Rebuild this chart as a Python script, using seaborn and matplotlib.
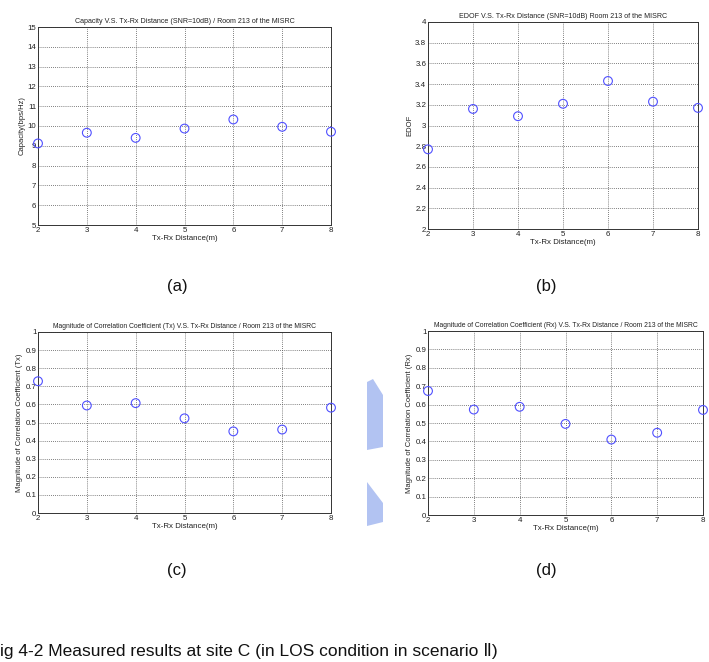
import matplotlib
matplotlib.use("Agg")
import matplotlib.pyplot as plt
from matplotlib.patches import Polygon
import seaborn as sns
import numpy as np

sns.set_theme(style="white")
plt.rcParams['font.family'] = ['Liberation Sans', 'DejaVu Sans']

distance = [2, 3, 4, 5, 6, 7, 8]
capacity = [9.12, 9.66, 9.40, 9.87, 10.33, 9.96, 9.71]
edof = [2.77, 3.16, 3.09, 3.21, 3.43, 3.23, 3.17]
corr_tx = [0.728, 0.594, 0.607, 0.523, 0.451, 0.461, 0.582]
corr_rx = [0.674, 0.573, 0.588, 0.495, 0.410, 0.447, 0.571]

titles = [
    "Capacity V.S. Tx-Rx Distance (SNR=10dB) / Room 213 of the MISRC",
    "EDOF V.S. Tx-Rx Distance (SNR=10dB) Room 213 of the MISRC",
    "Magnitude of Correlation Coefficient (Tx) V.S. Tx-Rx Distance / Room 213 of the MISRC",
    "Magnitude of Correlation Coefficient (Rx) V.S. Tx-Rx Distance / Room 213 of the MISRC",
]
ylabels = ["Capacity(bps/Hz)", "EDOF",
           "Magnitude of Correlation Coefficient (Tx)",
           "Magnitude of Correlation Coefficient (Rx)"]
xlabel = "Tx-Rx Distance(m)"
panel_labels = ["(a)", "(b)", "(c)", "(d)"]
caption = "ig 4-2 Measured results at site C (in LOS condition in scenario \u2161)"
series = [capacity, edof, corr_tx, corr_rx]
ylims = [(5, 15), (2, 4), (0, 1), (0, 1)]
yticks = [np.arange(5, 15.01, 1), np.arange(2, 4.001, 0.2),
          np.arange(0, 1.001, 0.1), np.arange(0, 1.001, 0.1)]

W, H = 709, 662
fig = plt.figure(figsize=(W / 100, H / 100), dpi=100)
boxes = [(38, 27, 331, 225), (428, 22, 698, 229),
         (38, 332, 331, 513), (428, 331, 703, 515)]
label_pos = [(177, 287), (546, 287), (177, 571), (546, 571)]
title_sizes = [5.1, 5.1, 4.9, 4.9]

for i in range(4):
    l, t, r, b = boxes[i]
    ax = fig.add_axes([l / W, 1 - b / H, (r - l) / W, (b - t) / H])
    sns.scatterplot(x=distance, y=series[i], ax=ax, marker='o', s=40,
                    facecolors='none', edgecolors='#5050ff', linewidth=0.8,
                    clip_on=False, zorder=5)
    ax.set_xlim(2, 8)
    ax.set_ylim(*ylims[i])
    ax.set_xticks(distance)
    ax.set_yticks(yticks[i])
    ax.set_yticklabels([f"{v:g}" for v in np.round(yticks[i], 1)])
    ax.grid(True, color='#555555', linestyle=(0, (1, 1.5)), linewidth=0.6)
    ax.tick_params(labelsize=5.7, length=2, direction='in', pad=1.2,
                   colors='#222222')
    for s in ax.spines.values():
        s.set_color('#333333')
        s.set_linewidth(0.7)
    ax.set_title(titles[i], fontsize=title_sizes[i], pad=3, color='#222222')
    ax.set_xlabel(xlabel, fontsize=5.7, labelpad=1, color='#222222')
    ax.set_ylabel(ylabels[i], fontsize=5.5, labelpad=1.5, color='#222222')
    px, py = label_pos[i]
    fig.text(px / W, 1 - py / H, panel_labels[i], fontsize=12,
             ha='center', va='center', color='#111111')

# faint watermark fragment between the lower panels
wm = '#9fb4ef'
for pts in ([(367, 382), (373, 379), (383, 395), (383, 447), (367, 450)],
            [(367, 482), (383, 503), (383, 522), (367, 526)]):
    fig.patches.append(Polygon([(x / W, 1 - y / H) for x, y in pts],
                               closed=True, transform=fig.transFigure,
                               facecolor=wm, edgecolor='none', alpha=0.8))

fig.text(0 / W, 1 - 656 / H, caption,
         fontsize=12.5, ha='left', va='baseline', color='#111111',
         family=['Liberation Sans', 'DejaVu Sans'])

fig.savefig("out.png", dpi=100)
